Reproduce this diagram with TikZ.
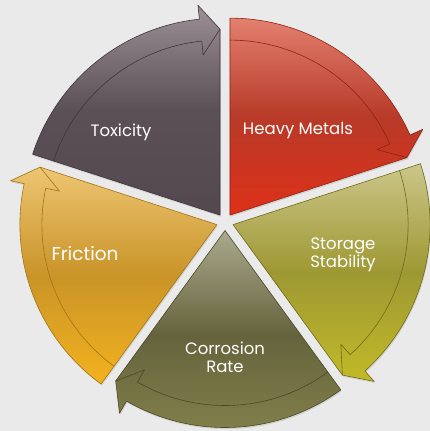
\documentclass[tikz,border=0pt]{standalone}
\usepackage{fontspec}
\setmainfont{Poppins}
\definecolor{bg}{HTML}{EAEAEA}
\definecolor{toxT}{HTML}{9C9096}\definecolor{toxM}{HTML}{5C5057}\definecolor{toxB}{HTML}{54484F}\definecolor{toxL}{HTML}{3E343A}
\definecolor{hmT}{HTML}{E3806F}\definecolor{hmM}{HTML}{B83A28}\definecolor{hmB}{HTML}{DE3018}\definecolor{hmL}{HTML}{8E2414}
\definecolor{ssT}{HTML}{CCC68A}\definecolor{ssM}{HTML}{9E9833}\definecolor{ssB}{HTML}{C2BA28}\definecolor{ssL}{HTML}{6F6A1A}
\definecolor{crT}{HTML}{ABA98E}\definecolor{crM}{HTML}{65633C}\definecolor{crB}{HTML}{84824C}\definecolor{crL}{HTML}{4A4826}
\definecolor{frT}{HTML}{EEC573}\definecolor{frM}{HTML}{C99428}\definecolor{frB}{HTML}{F4B21E}\definecolor{frL}{HTML}{A27414}
\tikzset{
  lbl/.style={text=white, align=center, font=\fontsize{16.5}{18}\selectfont, inner sep=0pt},
  segline/.style={line width=0.6pt, line join=round},
}
\newcommand\mysegment[5]{%
  % #1 start angle, #2 top colour, #3 middle colour, #4 bottom colour, #5 line colour
  \pgfmathsetmacro\segS{#1}%
  \pgfmathsetmacro\segE{#1-72}%
  \pgfmathsetmacro\segM{#1-36}%
  \pgfmathsetmacro\segB{\segE+6}%
  \begin{scope}[shift={(225,209)}, shift={(\segM:8.5)}]
    \fill[black, opacity=0.10, shift={(0.8,-1.6)}] (0,0) -- (\segS:197) arc[start angle=\segS, end angle=\segB, radius=197] -- (\segB:211) -- (\segE:186) -- cycle;
    \path[top color=#2, bottom color=#4, middle color=#3, draw=#5, segline] (0,0) -- (\segS:197) arc[start angle=\segS, end angle=\segB, radius=197] -- (\segB:211) -- (\segE:186) -- cycle;
    \draw[#5, segline] (\segS:175) arc[start angle=\segS, end angle=\segB, radius=175] -- (\segB:161) -- (\segE:186);
  \end{scope}}
\begin{document}
\begin{tikzpicture}[x=1pt, y=1pt]
  \fill[bg] (0,0) rectangle (430,431);
  \useasboundingbox (0,0) rectangle (430,431);
  \mysegment{90}{hmT}{hmM}{hmB}{hmL}
  \mysegment{18}{ssT}{ssM}{ssB}{ssL}
  \mysegment{-54}{crT}{crM}{crB}{crL}
  \mysegment{-126}{frT}{frM}{frB}{frL}
  \mysegment{162}{toxT}{toxM}{toxB}{toxL}
  \node[lbl] (tox) at (121,299) {Toxicity};
  \node[lbl] (hm) at (298,300) {Heavy Metals};
  \node[lbl] (ss) at (343,176) {Storage\\Stability};
  \node[lbl, font=\fontsize{18.5}{20}\selectfont] (fr) at (85,177) {Friction};
  \node[lbl] (cr) at (225,74) {Corrosion\\Rate};
\end{tikzpicture}
\end{document}
